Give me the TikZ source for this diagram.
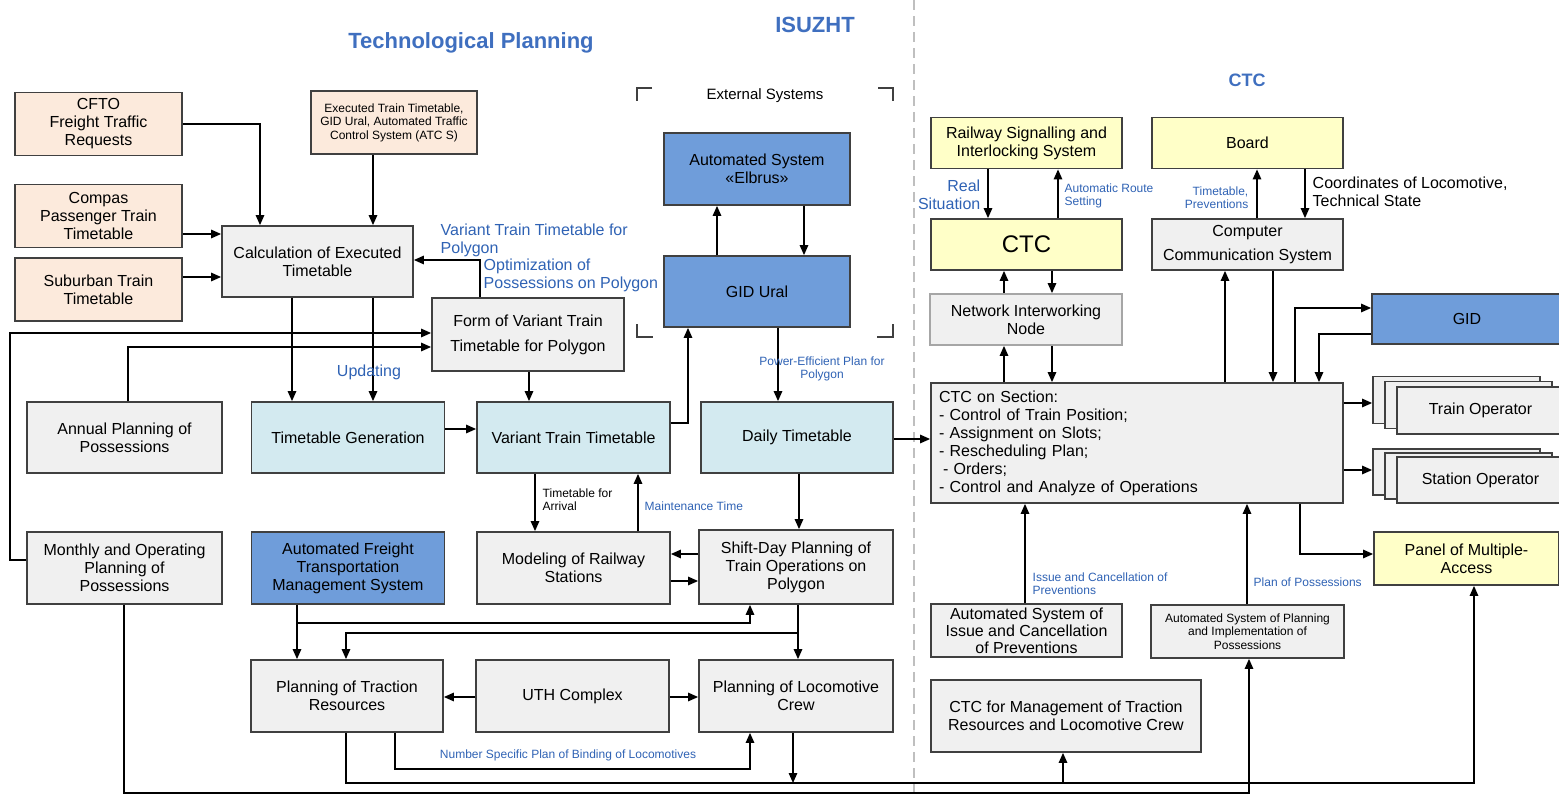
\documentclass[tikz,border=0pt]{standalone}
\usepackage{fontspec}
\setmainfont{Liberation Sans}
\usepackage{tikz}
\usetikzlibrary{arrows.meta,positioning,calc}
\definecolor{peachfill}{HTML}{FCEADC}
\definecolor{greyfill}{HTML}{F0F0F0}
\definecolor{ttfill}{HTML}{D3EAF0}
\definecolor{sysfill}{HTML}{6F9DDA}
\definecolor{ctcfill}{HTML}{FFFFC8}
\definecolor{boxline}{HTML}{404040}
\definecolor{lblblue}{HTML}{2F62B4}
\definecolor{ttlblue}{HTML}{3F6FBF}
\newcommand{\fmain}{\fontsize{16}{18}\selectfont}
\newcommand{\fsmall}{\fontsize{12}{13}\selectfont}
\tikzset{
  box/.style={draw=boxline, line width=1.8pt, align=center, inner sep=2pt, font=\fmain},
  inbox/.style={box, fill=peachfill, minimum width=167pt, minimum height=63pt},
  procbox/.style={box, fill=greyfill, minimum width=193pt, minimum height=72pt},
  ttbox/.style={box, fill=ttfill, minimum width=193pt, minimum height=72pt},
  sysbox/.style={box, fill=sysfill, minimum width=193pt, minimum height=72pt},
  ctcbox/.style={box, fill=ctcfill, minimum width=191pt, minimum height=51pt},
  lbl/.style={text=lblblue, font=\fmain, inner sep=0pt},
  slbl/.style={text=lblblue, font=\fsmall, inner sep=0pt},
  heading/.style={text=ttlblue, font=\fontsize{22}{24}\selectfont\bfseries},
}

\begin{document}
\begin{tikzpicture}[x=1pt, y=-1pt, ->, >={Triangle[length=10pt,width=8.5pt]}, line width=1.4pt]
    \useasboundingbox (0,0) rectangle (1559,795);
    \draw[-, gray!50, line width=1.2pt, dash pattern=on 10pt off 6pt] (914,0) -- (914,795);

    \node[heading] (techplan) at (471,43) {Technological Planning};
    \node[heading] (isuzht) at (815,25) {ISUZHT};
    \node[heading, font=\fontsize{18}{20}\selectfont\bfseries] (ctchead) at (1247,80) {CTC};
    \node[font=\fontsize{15}{17}\selectfont] (extsys) at (765,96) {External Systems};
    % bracket round the external systems
    \draw[-, boxline, line width=2pt] (652,88) -- (637,88) -- (637,101);
    \draw[-, boxline, line width=2pt] (878,88) -- (893,88) -- (893,101);
    \draw[-, boxline, line width=2pt] (637,324) -- (637,337) -- (653,337);
    \draw[-, boxline, line width=2pt] (893,324) -- (893,337) -- (877,337);

    \node[inbox] (cfto) at (98.5,124) {CFTO\\Freight Traffic\\Requests};
    \node[inbox] (compas) at (98.5,216) {Compas\\Passenger Train\\Timetable};
    \node[inbox] (suburb) at (98.5,289.5) {Suburban Train\\Timetable};
    \node[inbox, font=\fontsize{12}{13.5}\selectfont, minimum width=166pt] (exec) at (394,122.5) {Executed Train Timetable,\\GID Ural, Automated Traffic\\Control System (ATC S)};
    \node[procbox, minimum width=191pt, minimum height=71pt] (calc) at (317.5,261.5) {Calculation of Executed\\Timetable};
    \node[procbox, minimum width=192pt, minimum height=73pt] (form) at (528,334.5) {Form of Variant Train\\[7pt]Timetable for Polygon};
    \node[procbox, minimum width=195pt, minimum height=71pt] (annual) at (124.5,437.5) {Annual Planning of\\Possessions};
    \node[procbox, minimum width=195pt] (monthly) at (124.5,568) {Monthly and Operating\\Planning of\\Possessions};
    \node[ttbox, minimum height=71pt] (tgen) at (348,437.5) {Timetable Generation};
    \node[ttbox, minimum height=71pt] (vtt) at (573.5,437.5) {Variant Train Timetable};
    \node[ttbox, minimum width=192pt, minimum height=71pt] (daily) at (797,437.5) {Daily Timetable};
    \node[sysbox] (aftms) at (348,568) {Automated Freight\\Transportation\\Management System};
    \node[procbox] (model) at (573.5,568) {Modeling of Railway\\Stations};
    \node[procbox, minimum width=194pt, minimum height=74pt] (shift) at (796,567) {Shift-Day Planning of\\Train Operations on\\Polygon};
    \node[procbox, minimum width=192pt] (ptr) at (347,696) {Planning of Traction\\Resources};
    \node[procbox] (uth) at (572.5,696) {UTH Complex};
    \node[procbox, minimum width=194pt] (plc) at (796,696) {Planning of Locomotive\\Crew};
    \node[sysbox, minimum width=186pt] (elbrus) at (757,169) {Automated System\\«Elbrus»};
    \node[sysbox, minimum width=186pt, minimum height=71pt] (gidural) at (757,291.5) {GID Ural};

    \node[ctcbox] (rsis) at (1026.5,143) {Railway Signalling and\\Interlocking System};
    \node[ctcbox] (board) at (1247.5,143) {Board};
    \node[ctcbox, font=\fontsize{24}{26}\selectfont] (ctc) at (1026.5,244.5) {CTC};
    \node[procbox, minimum width=191pt, minimum height=51pt] (ccs) at (1247.5,244.5) {Computer\\[6pt]Communication System};
    \node[procbox, draw=gray!70, minimum width=192pt, minimum height=51pt] (nin) at (1026,319.5) {Network Interworking\\Node};
    \node[procbox, align=left, text width=396pt, minimum width=412pt, minimum height=120pt] (ctcs) at (1137,443) {CTC on Section:\\- Control of Train Position;\\- Assignment on Slots;\\- Rescheduling Plan;\\\hspace{4pt}- Orders;\\- Control and Analyze of Operations};
    \node[sysbox, minimum width=190pt, minimum height=50pt] (gid) at (1467,319) {GID};
    \node[procbox, minimum width=167pt, minimum height=47pt] (trainop3) at (1456.5,400) {};
    \node[procbox, minimum width=167pt, minimum height=47pt] (trainop2) at (1468.5,405) {};
    \node[procbox, minimum width=167pt, minimum height=47pt] (trainop) at (1480.5,410.5) {Train Operator};
    \node[procbox, minimum width=167pt, minimum height=46pt] (stationop3) at (1456.5,472) {};
    \node[procbox, minimum width=167pt, minimum height=46pt] (stationop2) at (1468.5,476) {};
    \node[procbox, minimum width=167pt, minimum height=46pt] (stationop) at (1480.5,480) {Station Operator};
    \node[ctcbox, minimum width=185pt, minimum height=53pt] (panel) at (1466.5,558.5) {Panel of Multiple-\\Access};
    \node[procbox, font=\fontsize{16}{17}\selectfont, minimum width=191pt, minimum height=53pt] (asicp) at (1026.5,630.5) {Automated System of\\Issue and Cancellation\\of Preventions};
    \node[procbox, font=\fontsize{12}{13.5}\selectfont, minimum width=193pt, minimum height=53pt] (aspip) at (1247.5,631.5) {Automated System of Planning\\and Implementation of\\Possessions};
    \node[procbox, minimum width=270pt, minimum height=72pt] (ctcm) at (1066,716) {CTC for Management of Traction\\Resources and Locomotive Crew};

    % technological planning
    \draw (cfto.east) -| (calc.north -| 260,0);
    \draw (exec.south -| 373,0) -- (calc.north -| 373,0);
    \draw (compas.east |- 0,234) -- (calc.west |- 0,234);
    \draw (suburb.east |- 0,277) -- (calc.west |- 0,277);
    \draw (form.north -| 480,0) |- (calc.east |- 0,260);
    \draw (calc.south -| 292,0) -- (tgen.north -| 292,0);
    \draw (calc.south -| 373,0) -- (tgen.north -| 373,0);
    \draw (monthly.west |- 0,560) -- (10,560) |- (form.west |- 0,333);
    \draw (annual.north -| 128,0) |- (form.west |- 0,347);
    \draw (form.south -| 529,0) -- (vtt.north -| 529,0);
    \draw (tgen.east |- 0,429) -- (vtt.west |- 0,429);
    \draw (vtt.east |- 0,423) -| (gidural.south -| 688,0);
    \draw (gidural.north -| 717,0) -- (elbrus.south -| 717,0);
    \draw (elbrus.south -| 804,0) -- (gidural.north -| 804,0);
    \draw (gidural.south -| 778,0) -- (daily.north -| 778,0);
    \draw (daily.east |- 0,439) -- (ctcs.west |- 0,439);
    \draw (vtt.south -| 535,0) -- (model.north -| 535,0);
    \draw (model.north -| 638,0) -- (vtt.south -| 638,0);
    \draw (daily.south -| 799,0) -- (shift.north -| 799,0);
    \draw (shift.west |- 0,554) -- (model.east |- 0,554);
    \draw (model.east |- 0,581) -- (shift.west |- 0,581);
    \draw (aftms.south -| 297,0) -- (ptr.north -| 297,0);
    \draw (aftms.south -| 297,0) |- (750,623) -- (shift.south -| 750,0);
    \draw (shift.south -| 798,0) -- (plc.north -| 798,0);
    \draw (shift.south -| 798,0) |- (346,633) -- (ptr.north -| 346,0);
    \draw (uth.west |- 0,697) -- (ptr.east |- 0,697);
    \draw (uth.east |- 0,697) -- (plc.west |- 0,697);
    \draw (ptr.south -| 395,0) |- (750,769) -- (plc.south -| 750,0);
    \draw (ptr.south -| 346,0) |- (1474,783) -- (panel.south -| 1474,0);
    \coordinate (jplc) at (793,783);
    \coordinate (jctcm) at (1063,783);
    \draw (plc.south -| 793,0) -- (jplc);
    \draw (jctcm) -- (ctcm.south -| 1063,0);
    \draw (monthly.south -| 124,0) |- (1249,793) -- (aspip.south -| 1249,0);

    % CTC
    \draw (rsis.south -| 988,0) -- (ctc.north -| 988,0);
    \draw (ctc.north -| 1058,0) -- (rsis.south -| 1058,0);
    \draw (ccs.north -| 1257,0) -- (board.south -| 1257,0);
    \draw (board.south -| 1305,0) -- (ccs.north -| 1305,0);
    \draw (nin.north -| 1004,0) -- (ctc.south -| 1004,0);
    \draw (ctc.south -| 1052,0) -- (nin.north -| 1052,0);
    \draw (ctcs.north -| 1004,0) -- (nin.south -| 1004,0);
    \draw (nin.south -| 1052,0) -- (ctcs.north -| 1052,0);
    \draw (ctcs.north -| 1225,0) -- (ccs.south -| 1225,0);
    \draw (ccs.south -| 1273,0) -- (ctcs.north -| 1273,0);
    \draw (ctcs.north -| 1295,0) |- (gid.west |- 0,308);
    \draw (gid.west |- 0,334) -| (ctcs.north -| 1319,0);
    \draw (ctcs.east |- 0,403) -- (trainop3.west |- 0,403);
    \draw (ctcs.east |- 0,470) -- (stationop3.west |- 0,470);
    \draw (ctcs.south -| 1300,0) |- (panel.west |- 0,554);
    \draw (asicp.north -| 1025,0) -- (ctcs.south -| 1025,0);
    \draw (aspip.north -| 1247,0) -- (ctcs.south -| 1247,0);

    % labels
    \node[lbl, align=left, anchor=west] (lvtt) at (440,240) {Variant Train Timetable for\\Polygon};
    \node[lbl, align=left, anchor=west] (lopt) at (483,275) {Optimization of\\Possessions on Polygon};
    \node[lbl] (lupd) at (369,372) {Updating};
    \node[slbl, align=center] (lpower) at (822,369) {Power-Efficient Plan for\\Polygon};
    \node[font=\fsmall, inner sep=0pt, align=left, anchor=west] (larr) at (542,500) {Timetable for\\Arrival};
    \node[slbl, anchor=west] (lmaint) at (644,506) {Maintenance Time};
    \node[slbl] (lbind) at (568,755) {Number Specific Plan of Binding of Locomotives};
    \node[lbl, align=right, anchor=east] (lreal) at (981,195) {Real\\Situation};
    \node[slbl, align=left, anchor=west] (lroute) at (1064,196) {Automatic Route\\Setting};
    \node[slbl, align=right, anchor=east] (lprev) at (1249,198) {Timetable,\\Preventions};
    \node[font=\fmain, inner sep=0pt, align=left, anchor=west] (lcoord) at (1312,192) {Coordinates of Locomotive,\\Technical State};
    \node[slbl, align=left, anchor=west] (lissue) at (1032,584) {Issue and Cancellation of\\Preventions};
    \node[slbl, anchor=west] (lposs) at (1253,582) {Plan of Possessions};
\end{tikzpicture}
\end{document}
